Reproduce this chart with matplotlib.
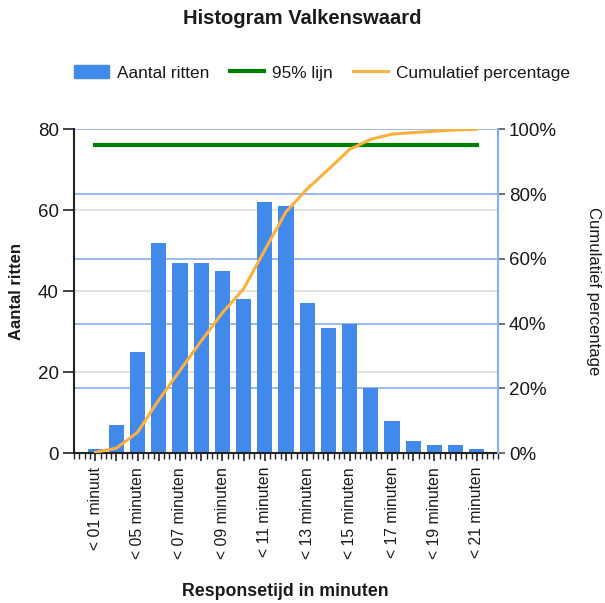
import matplotlib
matplotlib.use("Agg")
import matplotlib.pyplot as plt
import numpy as np
from matplotlib.patches import Patch
from matplotlib.lines import Line2D

plt.rcParams['font.family'] = ['Liberation Sans', 'DejaVu Sans']

categories = ["< 01 minuut", "< 04 minuten", "< 05 minuten", "< 06 minuten", "< 07 minuten",
              "< 08 minuten", "< 09 minuten", "< 10 minuten", "< 11 minuten", "< 12 minuten",
              "< 13 minuten", "< 14 minuten", "< 15 minuten", "< 16 minuten", "< 17 minuten",
              "< 18 minuten", "< 19 minuten", "< 20 minuten", "< 21 minuten"]
aantal_ritten = [1, 7, 25, 52, 47, 47, 45, 38, 62, 61, 37, 31, 32, 16, 8, 3, 2, 2, 1]
cumulatief_pct = [0.2, 1.5, 6.4, 16.4, 25.5, 34.6, 43.3, 50.7, 62.7, 74.5, 81.6,
                  87.6, 93.8, 96.9, 98.5, 99.0, 99.4, 99.8, 100.0]
lijn_95 = 95
left_ticks = [0, 20, 40, 60, 80]
right_ticks = [0, 20, 40, 60, 80, 100]

BAR = '#4189ea'
GREEN = '#008000'
ORANGE = '#fbb040'
GRIDBLUE = '#86aef2'
TXT = '#1a1a1a'

fig = plt.figure(figsize=(6.05, 6.03), dpi=100)
ax = fig.add_axes([74/605, 1-453/603, (498-74)/605, (453-129.3)/603])
ax2 = ax.twinx()

x = np.arange(len(categories))
ax.set_xlim(-1, len(categories))
ax.set_ylim(0, 80)
ax2.set_ylim(0, 100)

# grey gridlines (left axis)
for t in left_ticks[1:-1]:
    ax.axhline(t, color='#dddddd', lw=1.2, zorder=0)
# blue gridlines (right axis), drawn behind bars
for t in right_ticks[1:]:
    ax.axhline(t * 80 / 100, color=GRIDBLUE, lw=1.2, zorder=0.5)

ax.bar(x, aantal_ritten, width=0.72, color=BAR, zorder=2)

ax2.plot([x[0], x[-1]], [lijn_95, lijn_95], color=GREEN, lw=3, zorder=3)
ax2.plot(x, cumulatief_pct, color=ORANGE, lw=2.2, zorder=4, solid_capstyle='round')

# spines
for a in (ax, ax2):
    a.spines['top'].set_visible(False)
ax.spines['right'].set_visible(False)
ax2.spines['left'].set_visible(False)
ax2.spines['bottom'].set_visible(False)
ax2.spines['right'].set_color(GRIDBLUE)
ax2.spines['right'].set_linewidth(1.5)
ax.spines['left'].set_color('#222222')
ax.spines['left'].set_linewidth(1.5)
ax.spines['bottom'].set_color('#222222')
ax.spines['bottom'].set_linewidth(1.5)

ax.set_yticks(left_ticks)
ax.set_yticklabels([str(t) for t in left_ticks])
ax.tick_params(axis='y', length=8, width=1.2, colors='#222222', labelsize=13.5, labelcolor=TXT, pad=3)

ax2.set_yticks(right_ticks)
ax2.set_yticklabels([f"{t}%" for t in right_ticks])
ax2.tick_params(axis='y', length=5, width=1.2, colors='#555555', labelsize=13.5, labelcolor=TXT, pad=3)

ax.set_xticks(x)
ax.set_xticklabels([c if i % 2 == 0 else '' for i, c in enumerate(categories)],
                   rotation=90, fontsize=11.3, color=TXT)
ax.set_xticks(np.arange(-1, len(categories) + 0.01, 0.25), minor=True)
ax.tick_params(axis='x', which='major', length=6, width=1.2, colors='#222222', labelcolor=TXT, pad=4)
ax.tick_params(axis='x', which='minor', length=4, width=1.0, colors='#222222')

ax.set_ylabel("Aantal ritten", fontsize=12, fontweight='bold', color=TXT)
ax.yaxis.set_label_coords(-50/424, 0.5)
ax2.set_ylabel("Cumulatief percentage", fontsize=12, color=TXT, rotation=-90, labelpad=20)
ax2.yaxis.set_label_coords(1 + 103/424, 0.5)

fig.text(285/605, 1-591/603, "Responsetijd in minuten", fontsize=12.8, fontweight='bold',
         color=TXT, ha='center', va='center')
fig.text(302/605, 1-18/603, "Histogram Valkenswaard", fontsize=14.5, fontweight='bold',
         color=TXT, ha='center', va='center')

handles = [Patch(facecolor=BAR, edgecolor=BAR),
           Line2D([0], [0], color=GREEN, lw=3),
           Line2D([0], [0], color=ORANGE, lw=2.2)]
labels = ["Aantal ritten", "95% lijn", "Cumulatief percentage"]
fig.legend(handles, labels, loc='center', bbox_to_anchor=(322/605, 1-73/603), ncol=3,
           frameon=False, fontsize=12.4, handlelength=2.0, handleheight=0.8,
           handletextpad=0.45, columnspacing=1.2, labelcolor=TXT)

fig.savefig("out.png", dpi=100)
